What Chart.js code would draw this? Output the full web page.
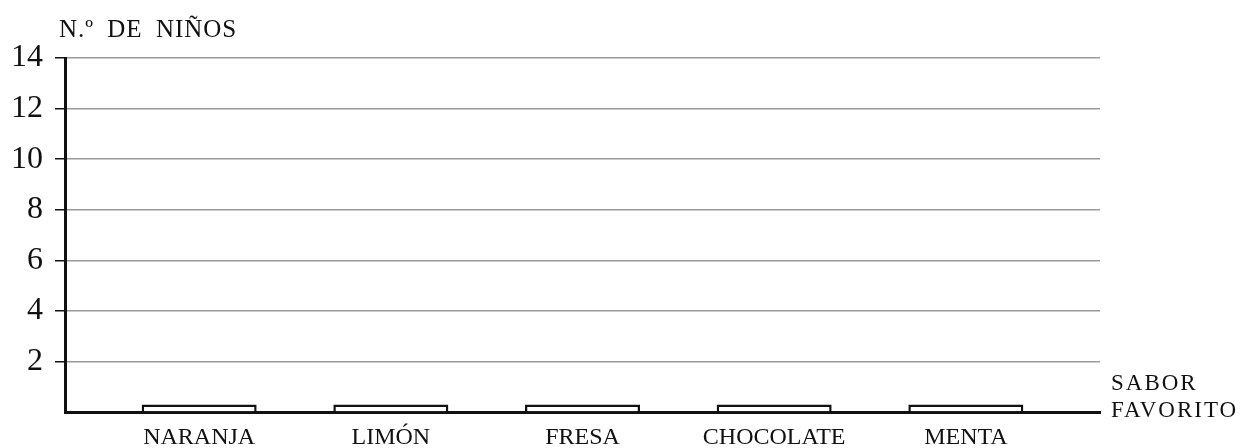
<!DOCTYPE html>
<html>
<head>
<meta charset="utf-8">
<script src="https://cdn.jsdelivr.net/npm/chart.js@4.4.1/dist/chart.umd.min.js"></script>
<style>
  html, body { margin: 0; padding: 0; background: #ffffff; }
  #wrap { width: 1249px; height: 448px; position: relative; }
</style>
</head>
<body>
<div id="wrap"><canvas id="c" width="1249" height="448"></canvas></div>
<script>
const categories = ["NARANJA", "LIMÓN", "FRESA", "CHOCOLATE", "MENTA"];
const values = [0.3, 0.3, 0.3, 0.3, 0.3];
const yTicks = [0, 2, 4, 6, 8, 10, 12, 14];
const yTitle = "N.º DE NIÑOS";
const xTitleLines = ["SABOR", "FAVORITO"];

const SERIF = "'Liberation Serif', 'DejaVu Serif', serif";

const textPlugin = {
  id: 'axisTitles',
  afterDraw(chart) {
    const ctx = chart.ctx;
    const area = chart.chartArea;
    ctx.save();
    ctx.fillStyle = '#111';
    ctx.textAlign = 'left';
    ctx.textBaseline = 'alphabetic';
    ctx.font = "25px " + SERIF;
    try { ctx.letterSpacing = '1px'; ctx.wordSpacing = '6px'; } catch (e) {}
    ctx.fillText(yTitle, 59, 37);
    ctx.font = "23px " + SERIF;
    try { ctx.letterSpacing = '2px'; ctx.wordSpacing = '0px'; } catch (e) {}
    const x = area.right + 11;
    ctx.fillText(xTitleLines[0], x, 390);
    ctx.fillText(xTitleLines[1], x, 417);
    ctx.restore();
  }
};

new Chart(document.getElementById('c'), {
  type: 'bar',
  data: {
    datasets: [{
      data: values.map((v, i) => ({ x: i + 1, y: v })),
      backgroundColor: '#ffffff',
      borderColor: '#111111',
      borderWidth: 2.5,
      borderSkipped: 'bottom',
      categoryPercentage: 1,
      barPercentage: 0.6
    }]
  },
  options: {
    responsive: false,
    animation: false,
    devicePixelRatio: 1,
    layout: { padding: { top: 58, right: 149, left: 0, bottom: 0 } },
    plugins: { legend: { display: false }, tooltip: { enabled: false }, title: { display: false } },
    scales: {
      x: {
        type: 'linear',
        offset: false,
        min: 0.3,
        max: 5.7,
        afterBuildTicks(scale) {
          scale.ticks = categories.map((c, i) => ({ value: i + 1 }));
        },
        afterFit(scale) { scale.height = 36; },
        grid: { display: false, drawTicks: false, offset: false },
        border: { display: true, color: '#111111', width: 3 },
        ticks: {
          color: '#111111',
          padding: 11,
          maxRotation: 0,
          autoSkip: false,
          font: { family: SERIF, size: 24 },
          callback: (v) => categories[Math.round(v) - 1] || ''
        }
      },
      y: {
        min: yTicks[0],
        max: yTicks[yTicks.length - 1],
        afterBuildTicks(scale) {
          scale.ticks = yTicks.map(v => ({ value: v }));
        },
        afterFit(scale) { scale.width = 65; },
        grid: {
          color: (c) => (c.tick && c.tick.value === 0) ? 'rgba(0,0,0,0)' : '#9a9a9a',
          tickColor: (c) => (c.tick && c.tick.value === 0) ? 'rgba(0,0,0,0)' : '#111111',
          lineWidth: 1.5,
          tickWidth: 1.5,
          tickLength: 10,
          drawTicks: true
        },
        border: { display: true, color: '#111111', width: 3 },
        ticks: {
          color: '#111111',
          padding: 12,
          font: { family: SERIF, size: 32 },
          callback: (v) => v === 0 ? '' : String(v)
        }
      }
    }
  },
  plugins: [textPlugin]
});
</script>
</body>
</html>
